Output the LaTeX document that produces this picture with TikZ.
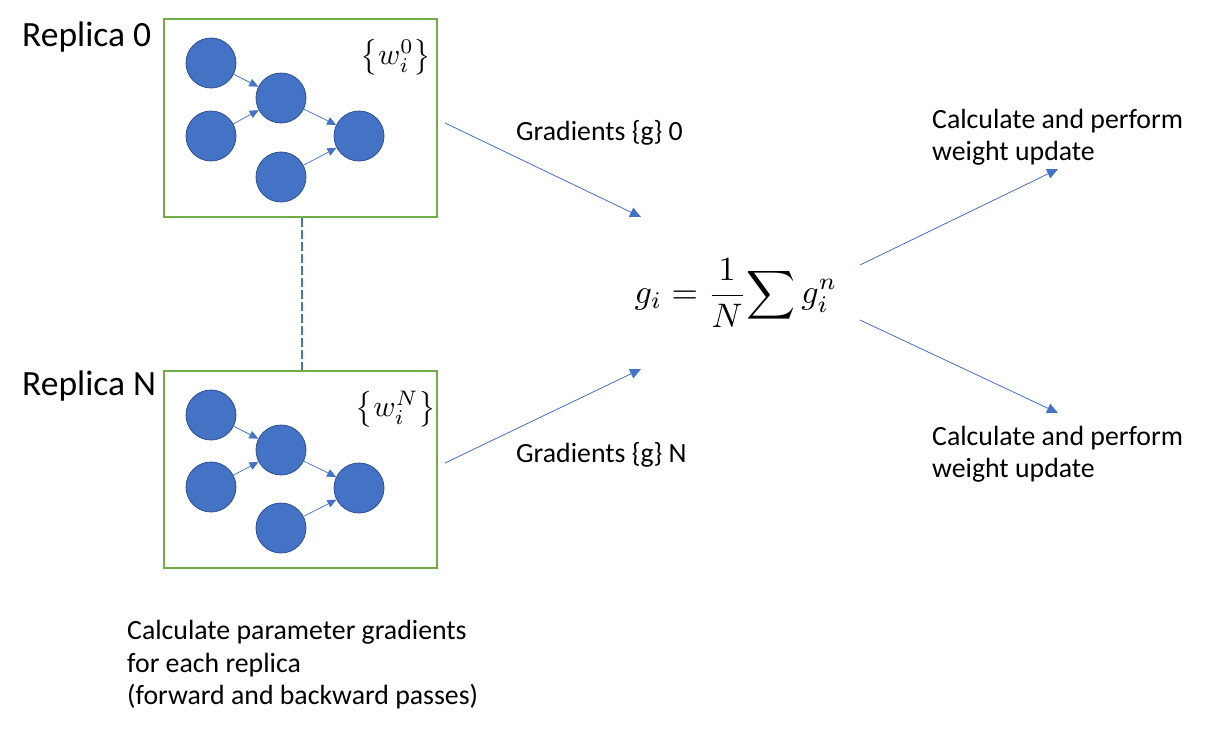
\documentclass[tikz,border=0pt]{standalone}
\usepackage{amsmath}
\usepackage{graphicx}
\usepackage{fontspec}
\setmainfont{Carlito}
\usetikzlibrary{arrows.meta}
\definecolor{ofblue}{HTML}{4472C4}
\definecolor{ofdark}{HTML}{2F528F}
\definecolor{ofgreen}{HTML}{70AD47}
\tikzset{
  neuron/.style={circle, fill=ofblue, draw=ofdark, line width=0.8pt, minimum size=50pt, inner sep=0pt},
  replicabox/.style={draw=ofgreen, line width=1.8pt},
  smallarrow/.style={draw=ofblue, line width=0.7pt, -{Triangle[length=9pt,width=8pt]}},
  bigarrow/.style={draw=ofblue, line width=0.8pt, -{Triangle[length=11pt,width=10pt]}},
  txt/.style={font=\fontsize{27.8}{32.5}\selectfont, align=left, inner sep=0pt, anchor=west},
  bigtxt/.style={font=\fontsize{35.5}{40}\selectfont, inner sep=0pt, anchor=west},
  mathtxt/.style={inner sep=0pt},
}
\begin{document}
\begin{tikzpicture}[x=1pt,y=-1pt]
\useasboundingbox (0,0) rectangle (1212,732);
\fill[white] (0,0) rectangle (1212,732);

% Replica 0
\node[bigtxt] (r0) at (22,37) {Replica 0};
\draw[replicabox] (164,19) rectangle (437,217);
\node[neuron] (a1) at (211,63) {};
\node[neuron] (a2) at (211,136) {};
\node[neuron] (a3) at (281,98) {};
\node[neuron] (a4) at (359,136) {};
\node[neuron] (a5) at (281,177) {};
\draw[smallarrow] (a1) -- (a3);
\draw[smallarrow] (a2) -- (a3);
\draw[smallarrow] (a3) -- (a4);
\draw[smallarrow] (a5) -- (a4);
\node[mathtxt] (w0) at (396,57) {\scalebox{3.0}{$\left\{w_i^0\right\}$}};

% dashed connector
\coordinate (d0) at (302,218);
\coordinate (dN) at (302,370);
\draw[ofblue, line width=2.8pt, dash pattern=on 9pt off 3pt] (d0) -- (dN);

% Replica N
\node[bigtxt] (rN) at (22,386) {Replica N};
\draw[replicabox] (164,371) rectangle (437,568);
\node[neuron] (b1) at (211,415) {};
\node[neuron] (b2) at (211,487) {};
\node[neuron] (b3) at (281,450) {};
\node[neuron] (b4) at (359,488) {};
\node[neuron] (b5) at (281,528) {};
\draw[smallarrow] (b1) -- (b3);
\draw[smallarrow] (b2) -- (b3);
\draw[smallarrow] (b3) -- (b4);
\draw[smallarrow] (b5) -- (b4);
\node[mathtxt] (wN) at (396,409) {\scalebox{3.0}{$\left\{w_i^N\right\}$}};

% formula
\node[mathtxt] (f) at (736,293) {\scalebox{3.4}{$\displaystyle g_i=\frac{1}{N}\!\sum g_i^n$}};

% gradient arrows
\coordinate (s0) at (445,123);
\coordinate (e0) at (641,217);
\coordinate (sN) at (445,463);
\coordinate (eN) at (641,369);
\draw[bigarrow] (s0) -- (e0);
\draw[bigarrow] (sN) -- (eN);
\node[txt] (g0) at (516,133) {Gradients \{g\} 0};
\node[txt] (gN) at (516,455) {Gradients \{g\} N};

% update arrows
\coordinate (u1s) at (860,265);
\coordinate (u1e) at (1058,169);
\coordinate (u2s) at (860,320);
\coordinate (u2e) at (1058,413);
\draw[bigarrow] (u1s) -- (u1e);
\draw[bigarrow] (u2s) -- (u2e);
\node[txt] (t1) at (932,137) {Calculate and perform\\weight update};
\node[txt] (t2) at (932,454) {Calculate and perform\\weight update};

% bottom text
\node[txt] (bt) at (127,665) {Calculate parameter gradients\\for each replica\\(forward and backward passes)};
\end{tikzpicture}
\end{document}
